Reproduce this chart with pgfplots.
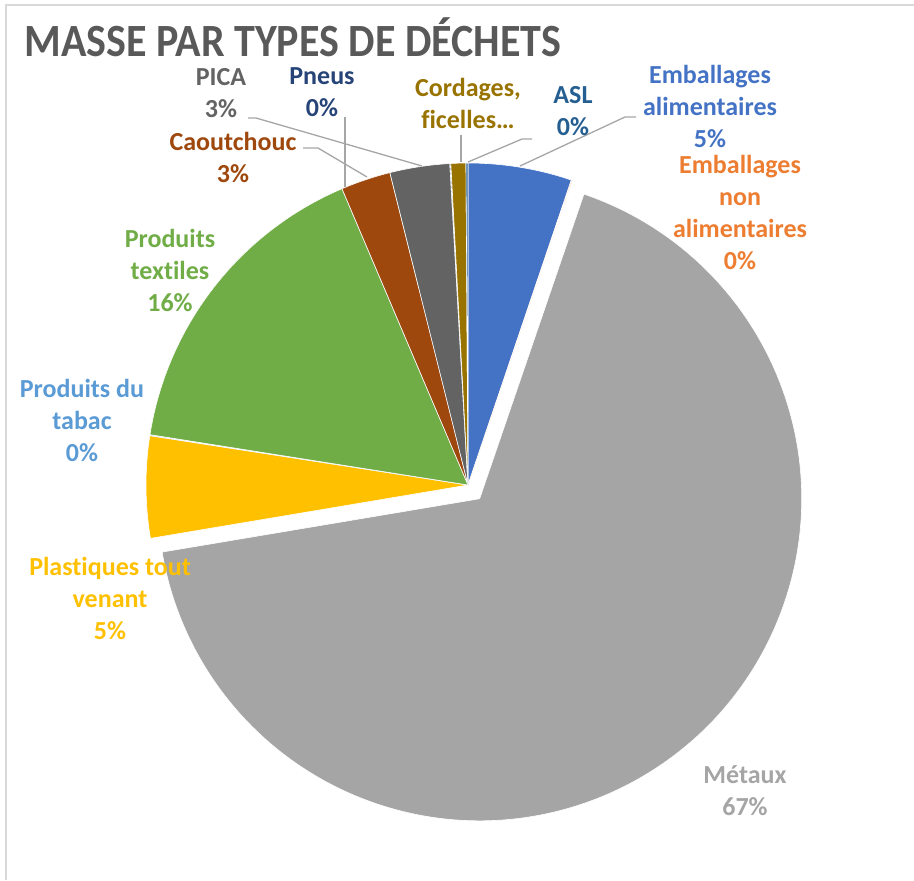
\documentclass[border=0pt]{standalone}
\usepackage{fontspec}
\setmainfont{Carlito}[Ligatures=NoCommon]
\usepackage{pgfplots}
\usepackage{pgfplotstable}
\pgfplotsset{compat=1.18}

\definecolor{cA}{HTML}{4472C4}
\definecolor{cB}{HTML}{ED7D31}
\definecolor{cC}{HTML}{A5A5A5}
\definecolor{cD}{HTML}{FFC000}
\definecolor{cE}{HTML}{5B9BD5}
\definecolor{cF}{HTML}{70AD47}
\definecolor{cG}{HTML}{9E480E}
\definecolor{cH}{HTML}{636363}
\definecolor{cI}{HTML}{264478}
\definecolor{cJ}{HTML}{997300}
\definecolor{cK}{HTML}{255E91}
\definecolor{titlegray}{HTML}{595959}
\definecolor{leader}{HTML}{A6A6A6}
\definecolor{frame}{HTML}{D9D9D9}

% mass share per waste type (percent), clockwise from the top
\pgfplotstableread[col sep=comma]{
name,val,col,off
Emballages alimentaires,5.2,cA,0
Emballages non alimentaires,0.05,cB,0
Metaux,67.1,cC,9
Plastiques tout venant,5.1,cD,0
Produits du tabac,0.05,cE,0
Produits textiles,16.1,cF,0
Caoutchouc,2.5,cG,0
PICA,3.0,cH,0
Pneus,0.05,cI,0
Cordages ficelles,0.75,cJ,0
ASL,0.1,cK,0
}\pie

\begin{document}
\begin{tikzpicture}
\begin{axis}[
  scale only axis,
  width=457pt, height=440pt,
  xmin=0, xmax=914, ymin=0, ymax=880,
  y dir=reverse,
  axis lines=none,
  clip=false,
]
% frame
\draw[frame, line width=1pt] (axis cs:6,880) -- (axis cs:6,5) -- (axis cs:914,5);

% wedges
\pgfplotstablegetrowsof{\pie}
\pgfmathtruncatemacro\N{\pgfplotsretval-1}
\def\cum{0}
\pgfplotsforeachungrouped \i in {0,...,\N}{%
  \pgfplotstablegetelem{\i}{val}\of\pie \let\v\pgfplotsretval
  \pgfplotstablegetelem{\i}{col}\of\pie \let\c\pgfplotsretval
  \pgfplotstablegetelem{\i}{off}\of\pie \let\o\pgfplotsretval
  \pgfmathsetmacro\a{90-\cum*3.6}%
  \pgfmathsetmacro\b{90-(\cum+\v)*3.6}%
  \pgfmathsetmacro\m{(\a+\b)/2}%
  \edef\cmd{\noexpand\fill[\c, draw=white, line width=0.3pt]
    ([shift={(\m:\o pt)}]axis cs:468,485) -- ++(\a:161pt)
    arc[start angle=\a, end angle=\b, radius=161pt] -- cycle;}%
  \cmd
  \pgfmathsetmacro\cum{\cum+\v}%
}

% leader lines
\draw[leader, line width=0.65pt] (axis cs:520,166) -- (axis cs:625,117) -- (axis cs:636,117);
\draw[leader, line width=0.65pt] (axis cs:468,162) -- (axis cs:522,139) -- (axis cs:532,139);
\draw[leader, line width=0.65pt] (axis cs:461,162) -- (axis cs:461,135);
\draw[leader, line width=0.65pt] (axis cs:345,187) -- (axis cs:345,117);
\draw[leader, line width=0.65pt] (axis cs:367,177) -- (axis cs:318,148) -- (axis cs:303,148);
\draw[leader, line width=0.65pt] (axis cs:422,166) -- (axis cs:256,118) -- (axis cs:248,118);

% title
\node[anchor=west, inner sep=0pt, text=titlegray, yscale=1.1,
      font=\fontsize{21pt}{25pt}\selectfont\bfseries]
  at (axis cs:24,37) {MASSE PAR TYPES DE DÉCHETS};

% data labels
\tikzset{lab/.style={align=center, inner sep=0pt, font=\fontsize{13pt}{16pt}\selectfont\bfseries}}
\node[lab, text=cA] at (axis cs:710,106) {Emballages\\alimentaires\\5\%};
\node[lab, text=cB] at (axis cs:740,212) {Emballages\\non\\alimentaires\\0\%};
\node[lab, text=cC] at (axis cs:745,791) {Métaux\\67\%};
\node[lab, text=cD] at (axis cs:110,598) {Plastiques tout\\venant\\5\%};
\node[lab, text=cE] at (axis cs:82,420) {Produits du\\tabac\\0\%};
\node[lab, text=cF] at (axis cs:170,270) {Produits\\textiles\\16\%};
\node[lab, text=cG] at (axis cs:233,157) {Caoutchouc\\3\%};
\node[lab, text=cH] at (axis cs:221,93) {PICA\\3\%};
\node[lab, text=cI] at (axis cs:322,92) {Pneus\\0\%};
\node[lab, text=cJ] at (axis cs:468,103) {Cordages,\\ficelles…};
\node[lab, text=cK] at (axis cs:573,111) {ASL\\0\%};
\end{axis}
\pgfresetboundingbox
\useasboundingbox (0,0) rectangle (457pt,440pt);
\end{tikzpicture}
\end{document}
